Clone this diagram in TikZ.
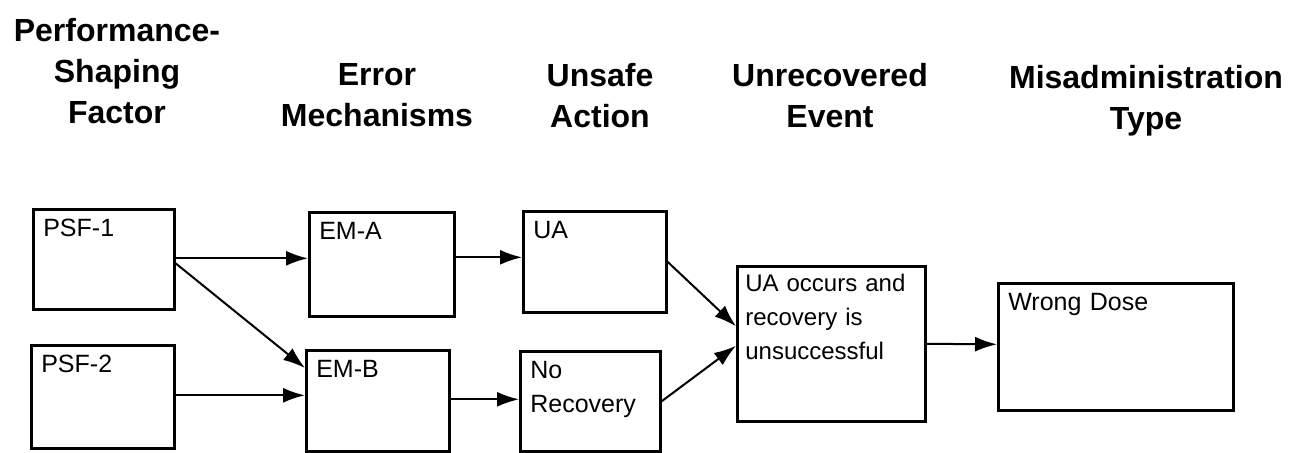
\documentclass[tikz,border=0pt]{standalone}
\usepackage{fontspec}
\setmainfont{Liberation Sans}
\usetikzlibrary{arrows.meta, positioning, calc}

\newcommand{\headfont}{\fontsize{16}{20.5}\selectfont\bfseries}
\newcommand{\boxfont}{\fontsize{12.5}{17}\selectfont}

\begin{document}
\begin{tikzpicture}[x=0.5pt, y=-0.5pt,
  head/.style={font=\headfont, align=center, inner sep=0pt, anchor=north},
  block/.style 2 args={draw, line width=1.3pt, anchor=north west, align=left,
                font=\boxfont, inner xsep=5pt, inner ysep=0pt,
                text height=13.5pt, text width=#1, text depth=#2},
  arrow/.style={-{Latex[length=11pt, width=7.5pt]}, line width=1pt}]

  \useasboundingbox (0,0) rectangle (1294,452);

  % column headings
  \node[head] (h-psf)   at (117,18)  {Performance-\\Shaping\\Factor};
  \node[head] (h-em)    at (377,63)  {Error\\Mechanisms};
  \node[head] (h-ua)    at (600,63)  {Unsafe\\Action};
  \node[head] (h-event) at (830,63)  {Unrecovered\\Event};
  \node[head] (h-type)  at (1146,65) {Misadministration\\Type};

  % boxes
  \node[block={60.5pt}{36.5pt}] (psf1)  at (32,208)  {PSF-1};
  \node[block={61.5pt}{38pt}]   (psf2)  at (30,344)  {PSF-2};
  \node[block={62.5pt}{38.5pt}] (ema)   at (308,211) {EM-A};
  \node[block={61.5pt}{37pt}]   (emb)   at (305,349) {EM-B};
  \node[block={61.5pt}{37pt}]   (ua)    at (522,210) {UA};
  \node[block={60pt}{36.5pt}]   (norec) at (519,350) {No\\Recovery};
  \node[block={86pt}{65pt}, inner xsep=4pt, text height=12.5pt,
        font=\fontsize{12}{17}\selectfont]
        (uaocc) at (736,265) {UA occurs and\\recovery is\\unsuccessful};
  \node[block={107.5pt}{50pt}] (wd)     at (997,282) {Wrong Dose};

  % connectors
  \draw[arrow] ([yshift=0.5pt]psf1.east) -- ([yshift=3pt]ema.west);
  \draw[arrow] ([yshift=-2pt]psf1.east) -- ([yshift=-9.5pt]emb.north west);
  \draw[arrow] ([yshift=0.75pt]psf2.east) -- ([yshift=2.75pt]emb.west);
  \draw[arrow] ([yshift=3.5pt]ema.east) -- ([yshift=2.25pt]ua.west);
  \draw[arrow] ([yshift=0.75pt]emb.east) -- ([yshift=1pt]norec.west);
  \draw[arrow] (ua.east) -- ([yshift=8.75pt]uaocc.west);
  \draw[arrow] (norec.east) -- ([yshift=-1pt]uaocc.west);
  \draw[arrow] (uaocc.east) -- ([yshift=1.25pt]wd.west);
\end{tikzpicture}
\end{document}
